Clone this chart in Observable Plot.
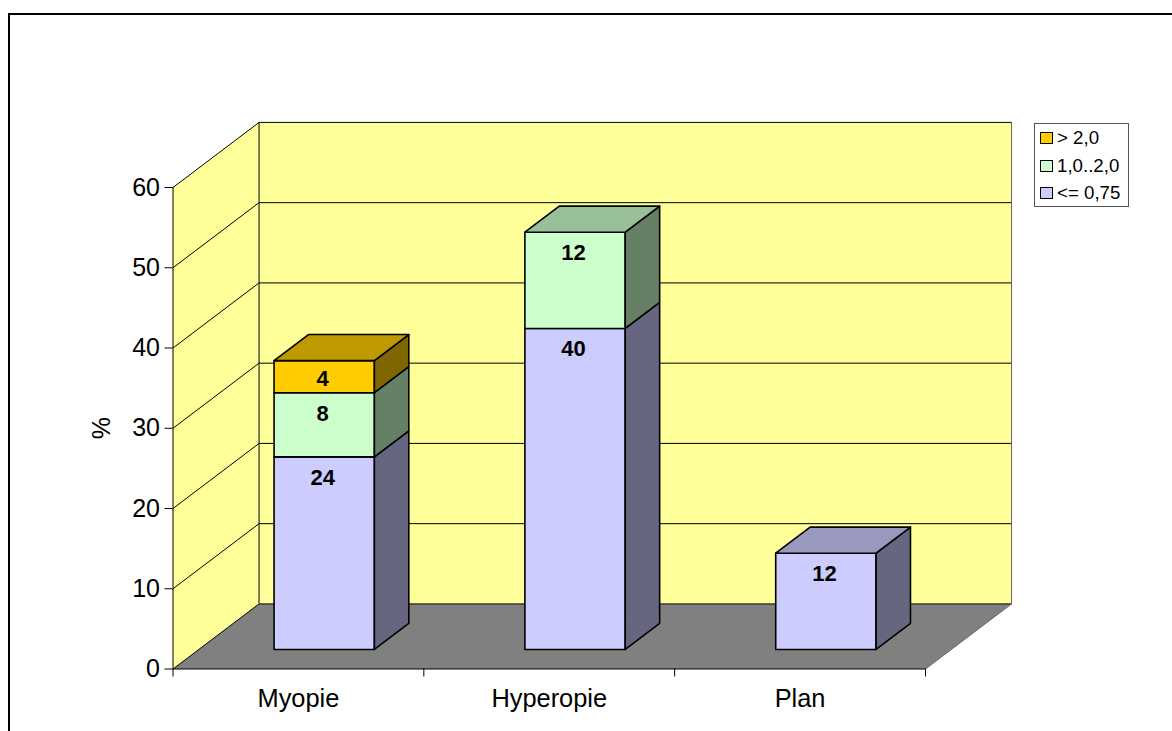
<!DOCTYPE html>
<html>
<head>
<meta charset="utf-8">
<script src="https://cdn.jsdelivr.net/npm/d3@7"></script>
<script src="https://cdn.jsdelivr.net/npm/@observablehq/plot@0.6"></script>
<style>
  html, body { margin: 0; padding: 0; background: #fff; overflow: hidden; }
  body { position: relative; width: 1172px; height: 731px; font-family: "Liberation Sans", Arial, sans-serif; }
  #chart { position: absolute; left: 0; top: 0; }
  #chart svg { display: block; }
  #border { position: absolute; left: 8px; top: 13px; width: 1300px; height: 900px; border: 2px solid #000; box-sizing: border-box; }
  #legend { position: absolute; left: 1034px; top: 123px; width: 95px; height: 84px; box-sizing: border-box;
            border: 1px solid #555; background: #fff; font-size: 18.7px; color: #000; }
  #legend .item { position: absolute; left: 5px; height: 12px; display: flex; align-items: center; white-space: nowrap; }
  #legend .swatch { width: 13px; height: 12px; border: 1px solid #000; box-sizing: border-box; margin-right: 4px; flex: none; }
</style>
</head>
<body>
<div id="chart"></div>
<div id="border"></div>
<div id="legend"></div>
<script>
// Refractive error share by group, stacked by amount of astigmatism (dioptres)
const categories = ["Myopie", "Hyperopie", "Plan"];
const seriesNames = ["<= 0,75", "1,0..2,0", "> 2,0"];
const lowValues = [24, 40, 12];
const midValues = [8, 12, 0];
const highValues = [4, 0, 0];
const yTicks = [0, 10, 20, 30, 40, 50, 60];

// Face colours per series: front, side (shaded), top (half shaded)
const frontColors = ["#CCCCFF", "#CCFFCC", "#FFCC00"];
const sideColors = ["#666680", "#668066", "#806600"];
const topColors = ["#9999BF", "#99BF99", "#BF9900"];

// Oblique projection: how far the full chart depth shifts a point, in data units
const depthX = 0.343;
const depthY = 8.11;
const project = (c, v, d) => ({x: c + d * depthX, y: v + d * depthY});

const barStart = 0.3, barEnd = 0.7;
const yMax = 60, xMax = categories.length;

const polygon = (id, color, corners) =>
  corners.map(([c, v, d]) => ({id, color, ...project(c, v, d)}));

// Walls and floor
const sideWall = polygon("side", "#FFFF99", [[0, 0, 0], [0, yMax, 0], [0, yMax, 1], [0, 0, 1]]);
const backWall = polygon("back", "#FFFF99", [[0, 0, 1], [0, yMax, 1], [xMax, yMax, 1], [xMax, 0, 1]]);
const floor = polygon("floor", "#808080", [[0, 0, 0], [0, 0, 1], [xMax, 0, 1], [xMax, 0, 0]]);

// Gridlines run along the side wall, then across the back wall
const gridLines = yTicks.flatMap((v) =>
  [[0, v, 0], [0, v, 1], [xMax, v, 1]].map(([c, w, d]) => ({id: v, ...project(c, w, d)})));
const rightEdge = [[xMax, 0, 0], [xMax, 0, 1], [xMax, yMax, 1]].map(([c, v, d]) => project(c, v, d));

// Stacked boxes, bottom segment first
const series = [lowValues, midValues, highValues];
const faces = [];
const labels = [];
categories.forEach((name, i) => {
  const c0 = i + barStart, c1 = i + barEnd;
  let base = 0;
  series.forEach((values, s) => {
    const v = values[i];
    if (!v) return;
    const top = base + v;
    faces.push(...polygon(`${i}-${s}-front`, frontColors[s],
      [[c0, base, barStart], [c0, top, barStart], [c1, top, barStart], [c1, base, barStart]]));
    faces.push(...polygon(`${i}-${s}-side`, sideColors[s],
      [[c1, base, barStart], [c1, top, barStart], [c1, top, barEnd], [c1, base, barEnd]]));
    const isTop = series.slice(s + 1).every((later) => !later[i]);
    if (isTop) {
      faces.push(...polygon(`${i}-${s}-top`, topColors[s],
        [[c0, top, barStart], [c0, top, barEnd], [c1, top, barEnd], [c1, top, barStart]]));
    }
    labels.push({
      value: v,
      ...project(i + 0.5, top - Math.min(2.6, v * 0.5625), barStart)
    });
    base = top;
  });
});

const fontFamily = '"Liberation Sans", Arial, sans-serif';

const chart = Plot.plot({
  width: 1172,
  height: 731,
  marginLeft: 172.5,
  marginRight: 247,
  marginTop: 187,
  marginBottom: 62.5,
  style: {fontFamily, background: "transparent"},
  x: {domain: [0, xMax]},
  y: {domain: [0, yMax]},
  color: {type: "identity"},
  marks: [
    Plot.line(sideWall, {x: "x", y: "y", z: "id", fill: "color", curve: "linear-closed"}),
    Plot.line(backWall, {x: "x", y: "y", z: "id", fill: "color", curve: "linear-closed"}),
    Plot.line(floor, {x: "x", y: "y", z: "id", fill: "color", curve: "linear-closed"}),
    Plot.line(gridLines, {x: "x", y: "y", z: "id", stroke: "#000", strokeWidth: 1}),
    Plot.line(rightEdge, {x: "x", y: "y", stroke: "#666", strokeWidth: 1}),
    Plot.ruleX([project(0, 0, 0).x], {y1: 0, y2: yMax, stroke: "#000", strokeWidth: 1}),
    Plot.ruleX([project(0, 0, 1).x], {y1: depthY, y2: yMax + depthY, stroke: "#000", strokeWidth: 1}),
    Plot.ruleY([0], {x1: 0, x2: xMax, stroke: "#000", strokeWidth: 1}),
    Plot.axisY({
      ticks: yTicks,
      tickSize: 8,
      tickPadding: 5,
      fontSize: 25,
      label: "%",
      labelAnchor: "center",
      labelArrow: "none",
      labelOffset: 81
    }),
    Plot.axisX({
      ticks: d3.range(xMax + 1),
      tickSize: 8,
      tickFormat: () => "",
      label: null
    }),
    Plot.text(categories, {
      x: (d, i) => i + 0.5,
      y: 0,
      text: (d) => d,
      dy: 30,
      fontSize: 25.4,
      fill: "#000"
    }),
    Plot.line(faces, {
      x: "x", y: "y", z: "id", fill: "color",
      stroke: "#000", strokeWidth: 1.6, curve: "linear-closed", strokeLinejoin: "round"
    }),
    Plot.text(labels, {
      x: "x", y: "y", text: "value", dx: -1.5,
      fontSize: 22, fontWeight: "bold", fill: "#000"
    })
  ]
});
document.getElementById("chart").append(chart);

// Legend lists the top of the stack first
const legend = document.getElementById("legend");
const legendTops = [8, 36, 63];
[2, 1, 0].forEach((s, row) => {
  const item = document.createElement("div");
  item.className = "item";
  item.style.top = legendTops[row] + "px";
  const swatch = document.createElement("span");
  swatch.className = "swatch";
  swatch.style.background = frontColors[s];
  const label = document.createElement("span");
  label.textContent = seriesNames[s];
  item.append(swatch, label);
  legend.append(item);
});
</script>
</body>
</html>
